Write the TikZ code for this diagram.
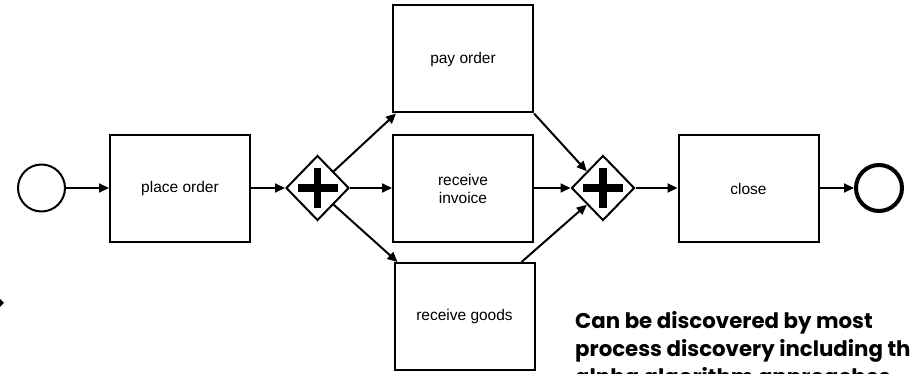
\documentclass[tikz,border=0pt]{standalone}
\usepackage{fontspec}
\setmainfont{Liberation Sans}
\newfontfamily\popfont{Poppins}
\usetikzlibrary{arrows.meta,shapes.geometric,calc}
\begin{document}
\begin{tikzpicture}[x=1pt,y=-1pt,
  task/.style={draw,line width=2pt,minimum width=140pt,minimum height=107pt,inner sep=2pt,
    font=\fontsize{15.5}{18}\selectfont,align=center},
  gate/.style={draw,diamond,line width=2pt,minimum width=63pt,minimum height=65pt,inner sep=0pt,fill=white},
  flow/.style={line width=2pt,-{Triangle[length=10pt,width=9pt]}},
  plusbar/.style={line width=7.5pt},
  note/.style={font=\popfont\bfseries\fontsize{21.3}{28}\selectfont,anchor=base west,inner sep=0pt}]
\useasboundingbox (0,0) rectangle (911,374);
\clip (0,0) rectangle (911,374);
\fill[white] (0,0) rectangle (911,374);
% start / end events
\node[draw,circle,line width=2pt,minimum size=47pt,inner sep=0pt] (start) at (41.5,188) {};
\node[draw,circle,line width=4pt,minimum size=46pt,inner sep=0pt] (end) at (879,188) {};
% tasks
\node[task] (place) at (180,188.5) {place order};
\node[task] (pay) at (463,59) {pay order};
\node[task] (invoice) at (463,188.5) {receive\\invoice};
\node[task] (goods) at (464.5,316.5) {receive goods};
\node[task] (close) at (748.5,188.5) {close};
% gateways
\node[gate] (g1) at (317.5,188) {};
\node[gate] (g2) at (603,188) {};
\draw[plusbar] ($(g1.center)+(-20,0)$) -- ($(g1.center)+(20,0)$);
\draw[plusbar] ($(g1.center)+(0,-20)$) -- ($(g1.center)+(0,20)$);
\draw[plusbar] ($(g2.center)+(-20,0)$) -- ($(g2.center)+(20,0)$);
\draw[plusbar] ($(g2.center)+(0,-20)$) -- ($(g2.center)+(0,20)$);
% flows
\draw[flow] (start.east) -- (start.east -| place.west);
\draw[flow] (place.east |- g1.west) -- (g1.west);
\draw[flow] (g1.north east) -- ($(pay.south west)+(4,0)$);
\draw[flow] (g1.east) -- (g1.east -| invoice.west);
\draw[flow] (g1.south east) -- ($(goods.north west)+(4,0)$);
\draw[flow] (pay.south east) -- (g2.north west);
\draw[flow] (invoice.east |- g2.west) -- (g2.west);
\draw[flow] ($(goods.north east)+(-14,0)$) -- (g2.south west);
\draw[flow] (g2.east) -- (g2.east -| close.west);
\draw[flow] (close.east |- end.west) -- (end.west);
% note text
\node[note] (t1) at (575,328) {Can be discovered by most};
\node[note] (t2) at (575,356.5) {process discovery including the};
\node[note] (t3) at (575,384) {alpha algorithm approaches};
% left edge fragment
\fill (0,299) -- (4,303) -- (0,307) -- (-4,303) -- cycle;
\end{tikzpicture}
\end{document}
